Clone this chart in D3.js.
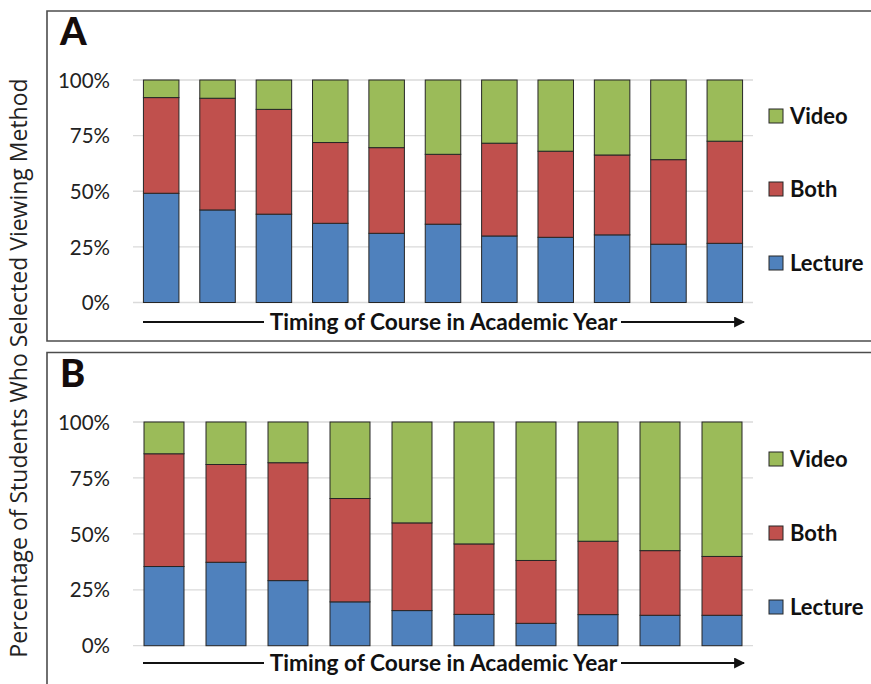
<!DOCTYPE html>
<html>
<head>
<meta charset="utf-8">
<script src="https://cdn.jsdelivr.net/npm/d3@7"></script>
<style>
  html, body { margin: 0; padding: 0; background: #fff; }
  svg { display: block; }
</style>
</head>
<body>
<svg id="chart" width="871" height="684"></svg>
<script>
// Viewing-method shares (%) per course, ordered by timing in the academic year
const seriesNames = ["Lecture", "Both", "Video"];
const tickValues = [0, 25, 50, 75, 100];
const tickLabels = ["0%", "25%", "50%", "75%", "100%"];

const coursesA = ["A1", "A2", "A3", "A4", "A5", "A6", "A7", "A8", "A9", "A10", "A11"];
const lectureA = [49.1, 41.6, 39.7, 35.6, 31.1, 35.2, 29.9, 29.3, 30.4, 26.2, 26.6];
const bothA    = [43.0, 50.2, 47.1, 36.3, 38.5, 31.4, 41.7, 38.7, 35.9, 38.0, 45.9];
const videoA   = [7.9, 8.2, 13.2, 28.1, 30.4, 33.4, 28.4, 32.0, 33.7, 35.8, 27.5];

const coursesB = ["B1", "B2", "B3", "B4", "B5", "B6", "B7", "B8", "B9", "B10"];
const lectureB = [35.4, 37.3, 29.1, 19.6, 15.7, 14.0, 10.0, 13.9, 13.6, 13.6];
const bothB    = [50.4, 43.7, 52.7, 46.2, 39.2, 31.5, 28.1, 32.8, 28.9, 26.3];
const videoB   = [14.2, 19.0, 18.2, 34.2, 45.1, 54.5, 61.9, 53.3, 57.5, 60.1];

const colors = { Lecture: "#4f81bd", Both: "#c0504d", Video: "#9bbb59" };
const xAxisText = "Timing of Course in Academic Year";
const yAxisText = "Percentage of Students Who Selected Viewing Method";

const svg = d3.select("#chart");

// arrow marker for the timing axis
svg.append("defs").append("marker")
  .attr("id", "arrowhead")
  .attr("viewBox", "0 0 10 10")
  .attr("refX", 9).attr("refY", 5)
  .attr("markerWidth", 5.5).attr("markerHeight", 5.5)
  .attr("markerUnits", "strokeWidth")
  .attr("orient", "auto")
  .append("path").attr("d", "M0,0 L10,5 L0,10 Z").attr("fill", "#111");

function buildRows(courses, lec, both, vid) {
  return courses.map((c, i) => ({ course: c, Lecture: lec[i], Both: both[i], Video: vid[i] }));
}

const panels = [
  { letter: "A", rows: buildRows(coursesA, lectureA, bothA, videoA),
    frameTop: 11, frameBottom: 341, yTop: 80, yBottom: 302.5, padding: 0.37,
    legendY: [116, 189, 263], arrowY: 322 },
  { letter: "B", rows: buildRows(coursesB, lectureB, bothB, videoB),
    frameTop: 352.5, frameBottom: 700, yTop: 422, yBottom: 645.7, padding: 0.355,
    legendY: [459, 533, 607], arrowY: 663 }
];

const plotLeft = 133, plotRight = 753;
const stack = d3.stack().keys(seriesNames);

panels.forEach(p => {
  const g = svg.append("g");

  // panel frame (open to the right edge)
  g.append("path")
    .attr("d", `M${880},${p.frameTop} H47 V${p.frameBottom} H880`)
    .attr("fill", "none").attr("stroke", "#4d4d4d").attr("stroke-width", 1.6);

  g.append("text")
    .attr("x", 60).attr("y", p.frameTop + 34)
    .attr("font-family", "Lato, 'Open Sans', sans-serif")
    .attr("font-weight", 900).attr("font-size", 38)
    .attr("fill", "#140c0c")
    .text(p.letter);

  const x = d3.scaleBand()
    .domain(p.rows.map(d => d.course))
    .range([plotLeft, plotRight])
    .paddingInner(p.padding).paddingOuter(p.padding / 2);
  const y = d3.scaleLinear().domain([0, 100]).range([p.yBottom, p.yTop]);

  // gridlines
  g.append("g").selectAll("line").data(tickValues).join("line")
    .attr("x1", plotLeft).attr("x2", plotRight)
    .attr("y1", d => y(d)).attr("y2", d => y(d))
    .attr("stroke", "#dadada").attr("stroke-width", 1.3);

  // y-axis tick labels
  const yAxis = d3.axisLeft(y).tickValues(tickValues)
    .tickFormat((d, i) => tickLabels[i]).tickSize(0).tickPadding(0);
  const ax = g.append("g").attr("transform", "translate(110,0)").call(yAxis);
  ax.select(".domain").remove();
  ax.selectAll("text")
    .attr("font-family", "Lato, sans-serif").attr("font-size", 20.5)
    .attr("fill", "#222").attr("dy", "0.35em");

  // stacked bars
  const layers = stack(p.rows);
  g.append("g").selectAll("g").data(layers).join("g")
    .attr("fill", d => colors[d.key])
    .selectAll("rect").data(d => d).join("rect")
      .attr("x", d => x(d.data.course))
      .attr("width", x.bandwidth())
      .attr("y", d => y(d[1]))
      .attr("height", d => y(d[0]) - y(d[1]))
      .attr("stroke", "#262626").attr("stroke-width", 1);

  // legend (top to bottom: Video, Both, Lecture)
  const legendOrder = seriesNames.slice().reverse();
  const lg = g.append("g").selectAll("g").data(legendOrder).join("g")
    .attr("transform", (d, i) => `translate(769,${p.legendY[i]})`);
  lg.append("rect")
    .attr("x", 0).attr("y", -7).attr("width", 14).attr("height", 14)
    .attr("fill", d => colors[d]).attr("stroke", "#262626").attr("stroke-width", 1);
  lg.append("text")
    .attr("x", 21).attr("y", 0).attr("dy", "0.36em")
    .attr("font-family", "Lato, sans-serif").attr("font-weight", 700)
    .attr("font-size", 22).attr("fill", "#111")
    .text(d => d);

  // timing axis: label with arrow lines
  g.append("line")
    .attr("x1", 143).attr("x2", 264).attr("y1", p.arrowY).attr("y2", p.arrowY)
    .attr("stroke", "#111").attr("stroke-width", 2);
  g.append("text")
    .attr("x", 443.5).attr("y", p.arrowY).attr("dy", "0.36em")
    .attr("text-anchor", "middle")
    .attr("font-family", "Lato, sans-serif").attr("font-weight", 700)
    .attr("font-size", 22.7).attr("fill", "#111")
    .text(xAxisText);
  g.append("line")
    .attr("x1", 621).attr("x2", 744).attr("y1", p.arrowY).attr("y2", p.arrowY)
    .attr("stroke", "#111").attr("stroke-width", 2)
    .attr("marker-end", "url(#arrowhead)");
});

// shared y-axis title
svg.append("text")
  .attr("transform", "translate(27,368) rotate(-90)")
  .attr("text-anchor", "middle")
  .attr("font-family", "'Open Sans', sans-serif")
  .attr("font-size", 23).attr("fill", "#222")
  .text(yAxisText);
</script>
</body>
</html>
